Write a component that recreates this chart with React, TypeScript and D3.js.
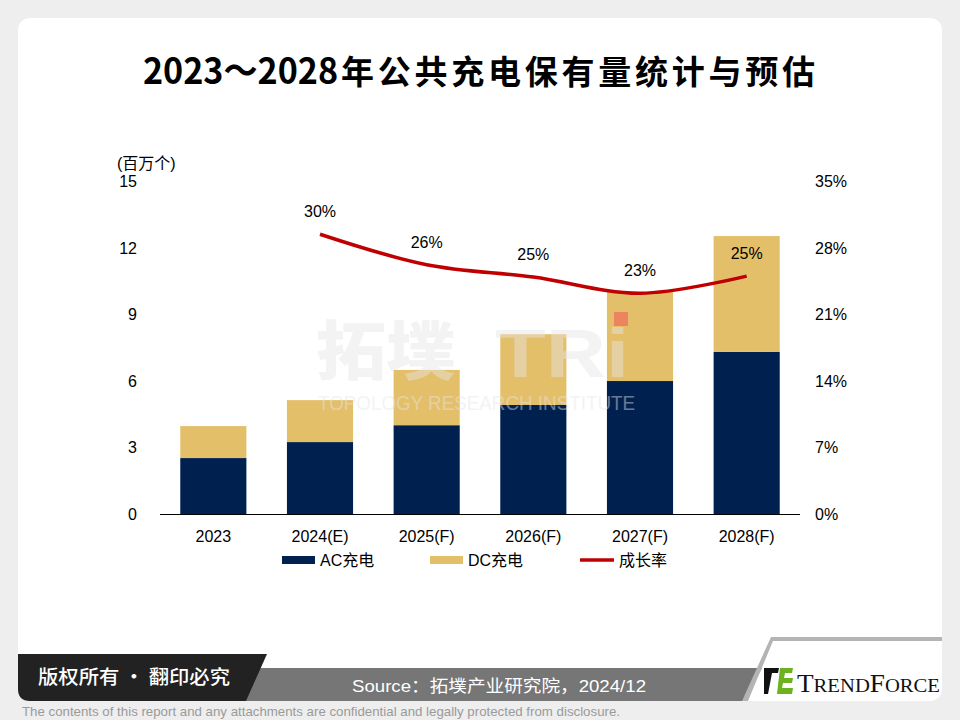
import React from "react";
import * as d3 from "d3";

const categories = ["2023", "2024(E)", "2025(F)", "2026(F)", "2027(F)", "2028(F)"];
const acValues = [2.52, 3.24, 4.0, 4.91, 5.99, 7.3];
const dcValues = [1.44, 1.89, 2.49, 3.19, 4.01, 5.22];
const growthCats = ["2024(E)", "2025(F)", "2026(F)", "2027(F)", "2028(F)"];
const growthValues = [29.4, 26.2, 24.9, 23.2, 25.0];
const growthLabels = ["30%", "26%", "25%", "23%", "25%"];
const leftTicks = [0, 3, 6, 9, 12, 15];
const rightTicks = [0, 7, 14, 21, 28, 35];

const SANS = "'Liberation Sans', Arial, 'Noto Sans CJK SC', sans-serif";
const CJK = "'Noto Sans CJK SC', 'Liberation Sans', sans-serif";

export default function App() {
  const x = d3.scaleBand<string>().domain(categories).range([160, 800]).paddingInner(0.38).paddingOuter(0.19);
  const yL = d3.scaleLinear().domain([0, 15]).range([514, 181]);
  const yR = d3.scaleLinear().domain([0, 35]).range([514, 181]);
  const cx = (c: string) => (x(c) as number) + x.bandwidth() / 2;

  const line = d3
    .line<number>()
    .x((_, i) => cx(growthCats[i]))
    .y((d) => yR(d))
    .curve(d3.curveCatmullRom.alpha(0.5));

  return (
    <svg width={960} height={720} style={{ position: "fixed", left: 0, top: 0 }}>
      <rect x={0} y={0} width={960} height={720} fill="#eeeeee" />
      <rect x={18} y={18} width={924} height={683} rx={12} fill="#ffffff" />

      {/* Title */}
      <text x={143} y={84} fontFamily={CJK} fontWeight={700} fontSize={36} textLength={195} lengthAdjust="spacingAndGlyphs">
        2023～2028
      </text>
      <text x={341} y={84} fontFamily={CJK} fontWeight={700} fontSize={33} textLength={474} lengthAdjust="spacing">
        年公共充电保有量统计与预估
      </text>

      {/* Bars */}
      {categories.map((c, i) => (
        <g key={c}>
          <rect x={x(c)} y={yL(acValues[i])} width={x.bandwidth()} height={514 - yL(acValues[i])} fill="#002050" />
          <rect
            x={x(c)}
            y={yL(acValues[i] + dcValues[i])}
            width={x.bandwidth()}
            height={yL(acValues[i]) - yL(acValues[i] + dcValues[i])}
            fill="#e4bf6a"
          />
        </g>
      ))}

      {/* Watermark */}
      <g opacity={0.45} fill="#e6e6e6">
        <text x={316} y={374} fontFamily={CJK} fontWeight={900} fontSize={64} textLength={140} lengthAdjust="spacingAndGlyphs">
          拓墣
        </text>
        <text x={495} y={377} fontFamily={SANS} fontWeight={700} fontSize={68} textLength={134} lengthAdjust="spacingAndGlyphs">
          TRi
        </text>
        <text x={318} y={410} fontFamily={SANS} fontSize={20} textLength={317} lengthAdjust="spacingAndGlyphs">
          TOPOLOGY RESEARCH INSTITUTE
        </text>
      </g>
      <rect x={614} y={312} width={14} height={14} fill="#ec8460" />

      {/* Baseline */}
      <line x1={160} x2={800} y1={514.5} y2={514.5} stroke="#000" strokeWidth={1} />

      {/* Growth line */}
      <path d={line(growthValues) || ""} fill="none" stroke="#c00000" strokeWidth={3.5} />
      {growthValues.map((v, i) => (
        <text key={i} x={cx(growthCats[i])} y={yR(v) - 17} textAnchor="middle" fontFamily={SANS} fontSize={16} fill="#000">
          {growthLabels[i]}
        </text>
      ))}

      {/* Left axis */}
      <text x={117} y={169} fontFamily={SANS} fontSize={16}>
        (百万个)
      </text>
      {leftTicks.map((t) => (
        <text key={t} x={137} y={yL(t) + 6} textAnchor="end" fontFamily={SANS} fontSize={16}>
          {t}
        </text>
      ))}
      {/* Right axis */}
      {rightTicks.map((t) => (
        <text key={t} x={815} y={yR(t) + 6} fontFamily={SANS} fontSize={16}>
          {t + "%"}
        </text>
      ))}
      {/* X labels */}
      {categories.map((c) => (
        <text key={c} x={cx(c)} y={542} textAnchor="middle" fontFamily={SANS} fontSize={16}>
          {c}
        </text>
      ))}

      {/* Legend */}
      <rect x={282} y={556} width={33} height={8} fill="#002050" />
      <text x={320} y={566} fontFamily={SANS} fontSize={16}>AC充电</text>
      <rect x={430} y={556} width={33} height={8} fill="#e4bf6a" />
      <text x={468} y={566} fontFamily={SANS} fontSize={16}>DC充电</text>
      <line x1={580} x2={614} y1={560} y2={560} stroke="#c00000" strokeWidth={3.5} />
      <text x={619} y={566} fontFamily={SANS} fontSize={16}>成长率</text>

      {/* Footer */}
      <path d="M245 668 L762 668 L744 701 L230 701 Z" fill="#767676" />
      <path d="M18 654 L267 654 L246 701 L30 701 Q18 701 18 689 Z" fill="#222222" />
      <text x={38} y={684} fontFamily={CJK} fontWeight={500} fontSize={19} fill="#ffffff" textLength={192} lengthAdjust="spacingAndGlyphs">
        版权所有 · 翻印必究
      </text>
      <text x={352} y={692} fontFamily={SANS} fontSize={17} fill="#ffffff" textLength={294} lengthAdjust="spacingAndGlyphs">
        Source：拓墣产业研究院，2024/12
      </text>
      <path d="M771 637 L942 637 L942 641 L773 641 L748 701 L742 701 Z" fill="#b4b4b4" />
      {/* TrendForce logo */}
      <path d="M764 668 L779 668 L778 673 L772 673 L768 694 L764 694 Z" fill="#111" />
      <path d="M780 668 L793 668 L792 673 L785 673 L784 678 L793 678 L792 683 L783 683 L782 688 L793 688 L792 694 L777 694 Z" fill="#6bb120" />
      <text x={797} y={692} fontFamily="'Liberation Serif', serif" fontSize={25} fill="#111" textLength={143} lengthAdjust="spacingAndGlyphs">
        T<tspan fontSize={19}>REND</tspan>F<tspan fontSize={19}>ORCE</tspan>
      </text>

      <text x={22} y={716} fontFamily="'Liberation Sans Narrow', 'Liberation Sans', sans-serif" fontSize={13} fill="#9a9a9a" textLength={598} lengthAdjust="spacingAndGlyphs">
        The contents of this report and any attachments are confidential and legally protected from disclosure.
      </text>
    </svg>
  );
}
